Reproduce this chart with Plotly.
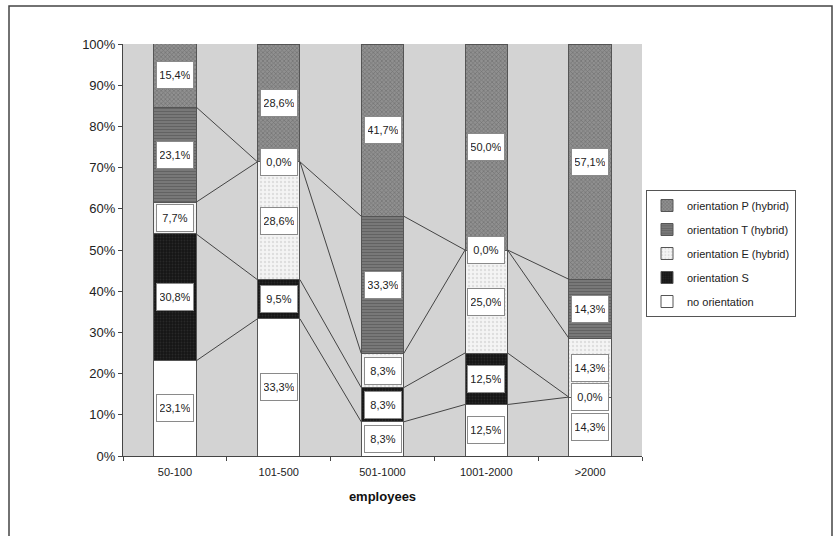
import plotly.graph_objects as go

categories = ["50-100", "101-500", "501-1000", "1001-2000", ">2000"]
series_names = ["no orientation", "orientation S", "orientation E (hybrid)",
                "orientation T (hybrid)", "orientation P (hybrid)"]
no_orientation = [23.1, 33.3, 8.3, 12.5, 14.3]
orientation_s = [30.8, 9.5, 8.3, 12.5, 0.0]
orientation_e = [7.7, 28.6, 8.3, 25.0, 14.3]
orientation_t = [23.1, 0.0, 33.3, 0.0, 14.3]
orientation_p = [15.4, 28.6, 41.7, 50.0, 57.1]
y_ticks = [0, 10, 20, 30, 40, 50, 60, 70, 80, 90, 100]

series_values = [no_orientation, orientation_s, orientation_e, orientation_t, orientation_p]
styles = [
    dict(color="#ffffff", pattern=dict(shape="", fgcolor="#ffffff")),
    dict(color="#1c1c1c", pattern=dict(shape=".", fgcolor="#3a3a3a", bgcolor="#161616", size=3, solidity=0.3)),
    dict(color="#eeeeee", pattern=dict(shape=".", fgcolor="#c8c8c8", bgcolor="#f4f4f4", size=4, solidity=0.3)),
    dict(color="#666666", pattern=dict(shape="-", fgcolor="#4a4a4a", bgcolor="#7a7a7a", size=3, solidity=0.4)),
    dict(color="#777777", pattern=dict(shape="x", fgcolor="#555555", bgcolor="#909090", size=3, solidity=0.4)),
]

FONT = "Liberation Sans, Arial, sans-serif"
BAR_W = 0.41
xs = list(range(len(categories)))

fig = go.Figure()
n = len(series_names)
for k, (name, vals, st) in enumerate(zip(series_names, series_values, styles)):
    fig.add_trace(go.Bar(
        x=xs, y=vals, name=name, width=BAR_W, legendgroup=name,
        legendrank=1000 + (n - k),
        marker=dict(color=st["color"], pattern=st["pattern"],
                    line=dict(color="#555555", width=1)),
        hoverinfo="skip",
    ))

# cumulative tops
cums = []
running = [0.0] * len(categories)
for vals in series_values:
    running = [r + v for r, v in zip(running, vals)]
    cums.append(list(running))

# series lines (connecting segment tops between bars)
lx, ly = [], []
for c in cums[:-1]:
    for i in range(len(categories) - 1):
        lx += [xs[i] + BAR_W / 2, xs[i + 1] - BAR_W / 2, None]
        ly += [c[i], c[i + 1], None]
fig.add_trace(go.Scatter(x=lx, y=ly, mode="lines", showlegend=False,
                         line=dict(color="#444444", width=1), hoverinfo="skip"))

# value labels
annotations = []
for k, vals in enumerate(series_values):
    for i, v in enumerate(vals):
        center = cums[k][i] - v / 2
        annotations.append(dict(
            x=xs[i], y=center, xref="x", yref="y",
            text=f"{v:.1f}%".replace(".", ","), showarrow=False,
            bgcolor="#ffffff", bordercolor="#8a8a8a", borderwidth=1,
            borderpad=3, width=30, height=20,
            font=dict(family=FONT, size=11, color="#222222"),
        ))

L, R, T, B = 123, 195, 44, 80
PW, PH = 837 - L - R, 536 - T - B

def px_x(p):
    return (p - L) / PW

def px_y(p):
    return (536 - B - p) / PH

fig.update_layout(
    barmode="stack",
    width=837, height=536,
    margin=dict(l=L, r=R, t=T, b=B),
    paper_bgcolor="#ffffff",
    plot_bgcolor="#d3d3d3",
    font=dict(family=FONT, size=12, color="#222222"),
    annotations=annotations,
    legend=dict(
        x=px_x(646), y=px_y(190), xanchor="left", yanchor="top",
        traceorder="grouped", bgcolor="#ffffff", bordercolor="#555555",
        borderwidth=1, font=dict(family=FONT, size=11, color="#222222"),
        itemwidth=30, tracegroupgap=5,
    ),
    xaxis=dict(
        range=[-0.5, 4.5], tickvals=xs, ticktext=categories,
        ticks="", showline=True, linecolor="#444444", linewidth=1,
        showgrid=False, zeroline=False, ticklabelstandoff=6,
        tickfont=dict(family=FONT, size=11, color="#222222"),
        minor=dict(tick0=-0.5, dtick=1, ticks="outside", ticklen=4, tickcolor="#444444", showgrid=False),
        title=dict(text="<b>employees</b>", font=dict(family=FONT, size=13, color="#111111"), standoff=14),
    ),
    yaxis=dict(
        range=[0, 100], tickvals=y_ticks, ticktext=[f"{t}%" for t in y_ticks],
        ticks="outside", ticklen=4, tickcolor="#444444",
        showline=True, linecolor="#444444", linewidth=1,
        showgrid=False, zeroline=False,
        tickfont=dict(family=FONT, size=13, color="#222222"),
    ),
    shapes=[dict(type="rect", xref="paper", yref="paper",
                 x0=px_x(9), x1=px_x(832), y0=px_y(545), y1=px_y(6),
                 line=dict(color="#444444", width=1.5), fillcolor="rgba(0,0,0,0)", layer="below")],
)

fig.write_html("out.html", config={"displayModeBar": False},
               post_script="document.body.style.margin='0px';")
